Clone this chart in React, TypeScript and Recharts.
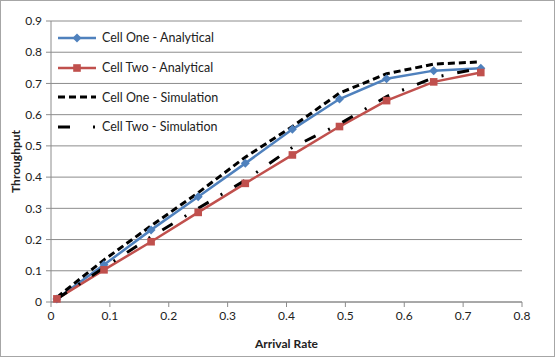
import { LineChart, Line, XAxis, YAxis, CartesianGrid } from 'recharts';

// arrival rate sampled at these points
const arrivalRate = [0.01, 0.09, 0.17, 0.25, 0.33, 0.41, 0.49, 0.57, 0.65, 0.73];

const cellOneAnalytical = [0.01, 0.119, 0.231, 0.337, 0.444, 0.553, 0.65, 0.715, 0.741, 0.749];
const cellTwoAnalytical = [0.01, 0.103, 0.193, 0.287, 0.38, 0.471, 0.562, 0.645, 0.705, 0.735];
const cellOneSimulation = [0.015, 0.135, 0.244, 0.35, 0.464, 0.562, 0.669, 0.731, 0.762, 0.769];
const cellTwoSimulation = [0.01, 0.11, 0.209, 0.3, 0.39, 0.495, 0.57, 0.658, 0.719, 0.749];

const xTicks = [0, 0.1, 0.2, 0.3, 0.4, 0.5, 0.6, 0.7, 0.8];
const yTicks = [0, 0.1, 0.2, 0.3, 0.4, 0.5, 0.6, 0.7, 0.8, 0.9];

const FONT = 'Lato, "Open Sans", sans-serif';
const BLUE = '#4F81BD';
const RED = '#C0504D';

const data = arrivalRate.map((x, i) => ({
  x,
  c1a: cellOneAnalytical[i],
  c2a: cellTwoAnalytical[i],
  c1s: cellOneSimulation[i],
  c2s: cellTwoSimulation[i],
}));

const series = [
  { key: 'c1a', name: 'Cell One - Analytical', color: BLUE, dash: undefined, marker: 'diamond', width: 2.5 },
  { key: 'c2a', name: 'Cell Two - Analytical', color: RED, dash: undefined, marker: 'square', width: 2.5 },
  { key: 'c1s', name: 'Cell One - Simulation', color: '#000', dash: '7 4', marker: null, width: 3 },
  { key: 'c2s', name: 'Cell Two - Simulation', color: '#000', dash: '12 14 2 14', marker: null, width: 3 },
];

function Marker({ type, cx, cy, color }: { type: string | null; cx: number; cy: number; color: string }) {
  if (type === 'diamond') {
    const r = 4.5;
    return <path d={`M${cx},${cy - r}L${cx + r},${cy}L${cx},${cy + r}L${cx - r},${cy}Z`} fill={color} />;
  }
  if (type === 'square') {
    const r = 3.8;
    return <rect x={cx - r} y={cy - r} width={r * 2} height={r * 2} fill={color} />;
  }
  return null;
}

// legend sits inside the plot area, on top of the grid
function LegendBox() {
  return (
    <div style={{ position: 'absolute', left: 56, top: 22, fontFamily: FONT, fontSize: 12.5, color: '#222', pointerEvents: 'none' }}>
      {series.map((s) => (
        <div key={s.key} style={{ display: 'flex', alignItems: 'center', height: 29.7 }}>
          <svg width={44} height={12} style={{ marginRight: 1 }}>
            <line x1={1} y1={6} x2={39} y2={6} stroke={s.color} strokeWidth={s.width}
              strokeDasharray={s.key === 'c2s' ? '12 23 2 10' : s.dash} />
            <Marker type={s.marker} cx={20} cy={6} color={s.color} />
          </svg>
          <span>{s.name}</span>
        </div>
      ))}
    </div>
  );
}

export default function App() {
  return (
    <div style={{ position: 'absolute', left: 0, top: 0, width: 555, height: 357, boxSizing: 'border-box', border: '1px solid #a6a6a6', background: '#fff' }}>
      <LineChart
        width={553}
        height={355}
        data={data}
        margin={{ top: 20, right: 32, bottom: 4, left: 9 }}
      >
        <CartesianGrid vertical={false} stroke="#8c8c8c" strokeWidth={1} />
        <XAxis
          dataKey="x"
          type="number"
          domain={[0, 0.8]}
          ticks={xTicks}
          height={50}
          stroke="#8c8c8c"
          tickSize={5}
          tick={{ fontSize: 12, fill: '#222', fontFamily: FONT }}
          tickMargin={4}
          label={{ value: 'Arrival Rate', position: 'insideBottom', offset: 4, style: { fontSize: 12, fontWeight: 'bold', fill: '#222', fontFamily: FONT } }}
        />
        <YAxis
          type="number"
          domain={[0, 0.9]}
          ticks={yTicks}
          width={41}
          stroke="#8c8c8c"
          tickSize={5}
          tick={{ fontSize: 12, fill: '#222', fontFamily: FONT }}
          tickMargin={4}
          label={{ value: 'Throughput', angle: -90, position: 'insideLeft', offset: 6, style: { fontSize: 12, fontWeight: 'bold', fill: '#222', fontFamily: FONT, textAnchor: 'middle' } }}
        />
        {series.map((s) => (
          <Line
            key={s.key}
            dataKey={s.key}
            name={s.name}
            stroke={s.color}
            strokeWidth={s.width}
            strokeDasharray={s.dash}
            isAnimationActive={false}
            dot={s.marker ? (p: any) => <Marker key={p.index} type={s.marker} cx={p.cx} cy={p.cy} color={s.color} /> : false}
            activeDot={false}
          />
        ))}
      </LineChart>
      <LegendBox />
    </div>
  );
}
